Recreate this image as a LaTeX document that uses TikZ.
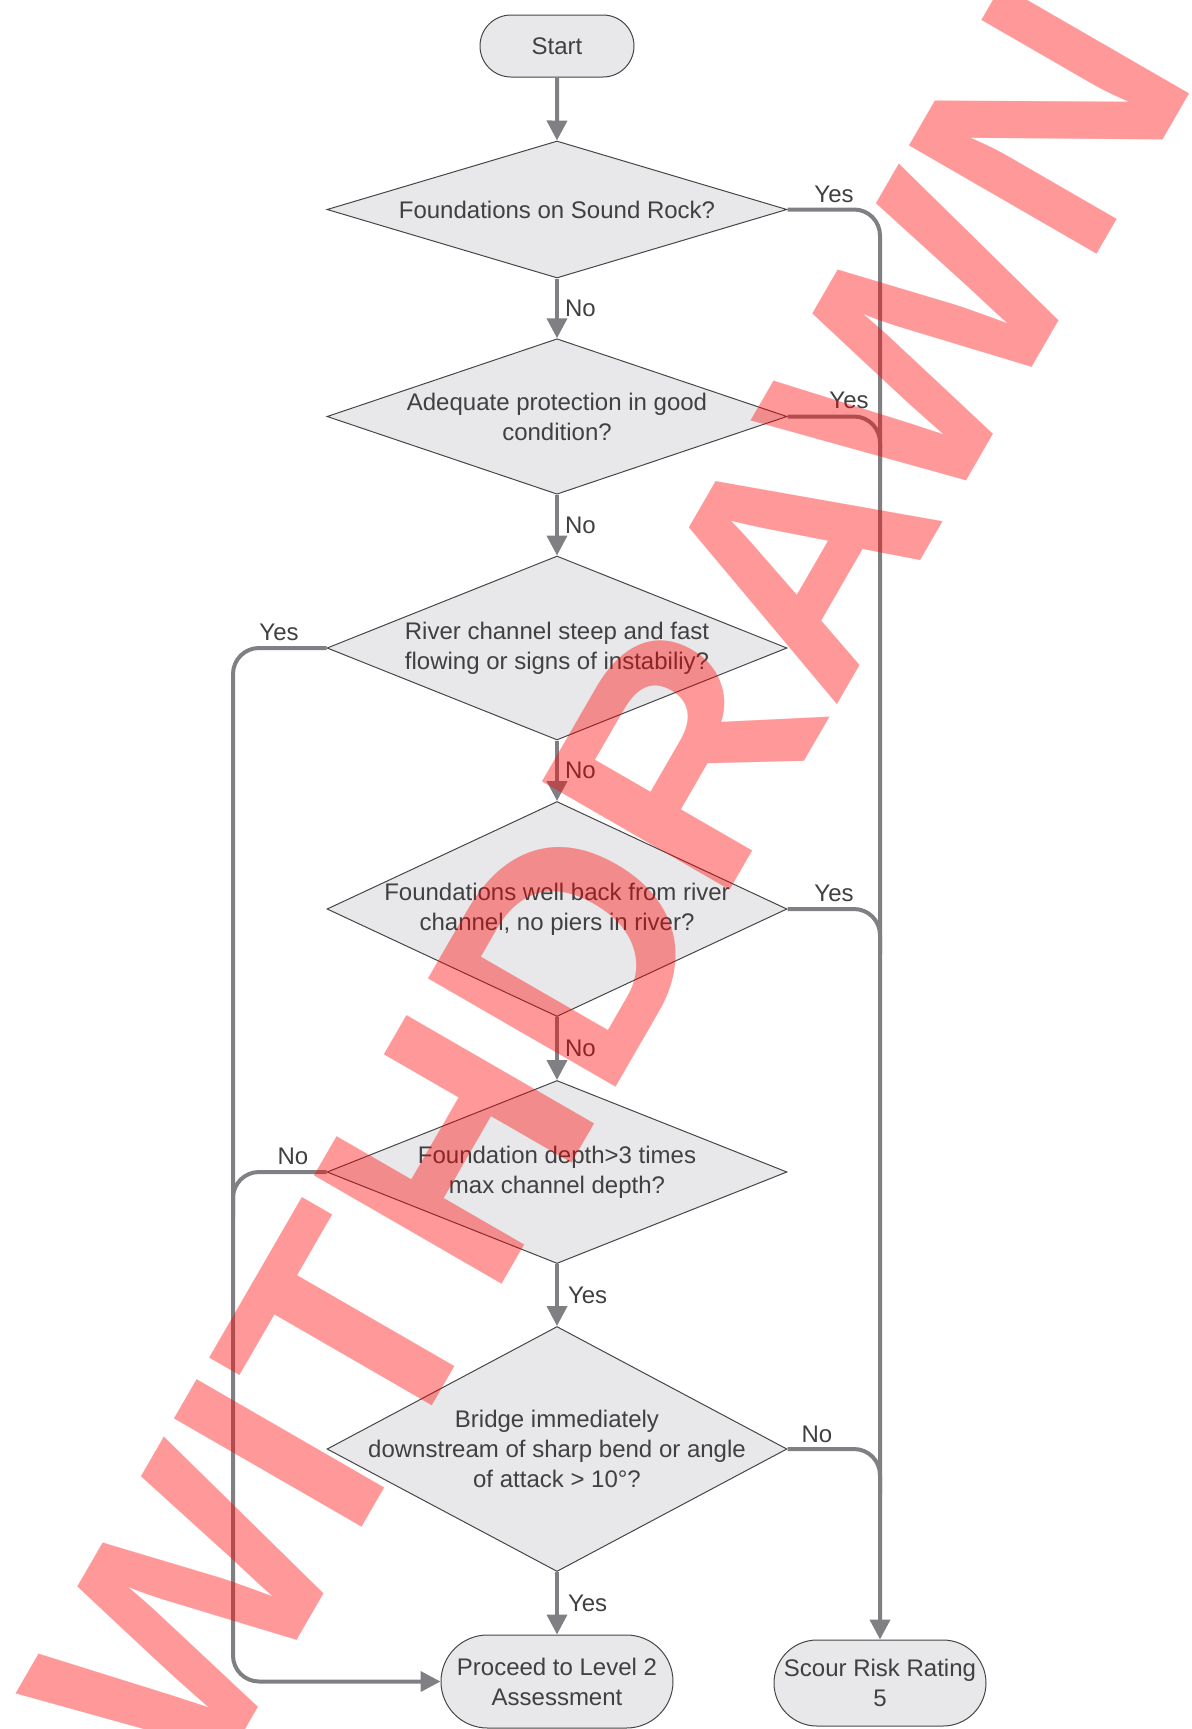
\documentclass[tikz,border=0pt]{standalone}
\usepackage{fontspec}
\setmainfont{Liberation Sans}
\usetikzlibrary{shapes.geometric,shapes.misc,arrows.meta}
\definecolor{lineg}{RGB}{128,128,132}
\definecolor{fillg}{RGB}{232,232,234}
\definecolor{edgeg}{RGB}{70,70,70}
\definecolor{txtg}{RGB}{64,64,64}
\begin{document}
\begin{tikzpicture}[x=0.5pt,y=-0.5pt,
  font=\fontsize{12}{15}\selectfont, text=txtg,
  dia/.style={diamond, draw=edgeg, line width=0.5pt, fill=fillg, minimum width=230pt, inner sep=0pt},
  term/.style={rounded rectangle, draw=edgeg, line width=0.5pt, fill=fillg, inner sep=0pt, align=center},
  conn/.style={draw=lineg, line width=2pt, rounded corners=13pt},
  arr/.style={-{Triangle[length=10pt,width=10pt]}},
  lbl/.style={inner sep=0pt, text=txtg},
  dtext/.style={label={[align=center, text=txtg]center:#1}}]
\useasboundingbox (0,0) rectangle (1192,1729);
\clip (0,0) rectangle (1192,1729);

\node[term, minimum width=77pt, minimum height=31pt] (start) at (557,46) {Start};
\node[dia, minimum height=68.5pt, dtext={Foundations on Sound Rock?}] (d1) at (557,209.5) {};
\node[dia, minimum height=77.75pt, dtext={Adequate protection in good\\condition?}] (d2) at (557,416.5) {};
\node[dia, minimum height=92pt, dtext={River channel steep and fast\\flowing or signs of instabiliy?}] (d3) at (557,648) {};
\node[dia, minimum height=107.5pt, dtext={Foundations well back from river\\channel, no piers in river?}] (d4) at (557,909) {};
\node[dia, minimum height=91.5pt, dtext={Foundation depth>3 times\\max channel depth?}] (d5) at (557,1172) {};
\node[dia, minimum height=122.5pt, dtext={Bridge immediately\\downstream of sharp bend or angle\\of attack > 10°?}] (d6) at (557,1449) {};
\node[term, minimum width=116pt, minimum height=46.5pt] (proc) at (557,1681.5) {Proceed to Level 2\\Assessment};
\node[term, minimum width=106pt, minimum height=43pt] (scour) at (880,1683) {Scour Risk Rating\\5};

\coordinate (lx) at (233,0);

% main vertical chain
\draw[conn,arr] (start) -- (d1);
\draw[conn,arr] (d1.south) -- node[lbl,right=3pt] (n1) {No} (d2.north);
\draw[conn,arr] (d2.south) -- node[lbl,right=3pt] (n2) {No} (d3.north);
\draw[conn,arr] (d3.south) -- node[lbl,right=3pt] (n3) {No} (d4.north);
\draw[conn,arr] (d4.south) -- node[lbl,right=3pt] (n4) {No} (d5.north);
\draw[conn,arr] (d5.south) -- node[lbl,right=4.5pt] (y5) {Yes} (d6.north);
\draw[conn,arr] (d6.south) -- node[lbl,right=4.5pt] (y6) {Yes} (proc.north);

% right branch
\draw[conn,arr] (d1.east) -| (scour.north);
\draw[conn] (d2.east) -- (d2.east -| scour.north) -- ++(0,45);
\draw[conn] (d4.east) -- (d4.east -| scour.north) -- ++(0,45);
\draw[conn] (d6.east) -- (d6.east -| scour.north) -- ++(0,45);

% left branch
\draw[conn,arr] (d3.west) -- (d3.west -| lx) |- (proc.west);
\draw[conn] (d5.west) -- (d5.west -| lx) -- ++(0,45);

% side labels
\node[lbl] (y1) at (834,194) {Yes};
\node[lbl] (y2) at (849,400) {Yes};
\node[lbl] (y3) at (279,632) {Yes};
\node[lbl] (y4) at (834,893) {Yes};
\node[lbl] (n5) at (293,1156) {No};
\node[lbl] (n6) at (817,1434) {No};

% watermark
\node[anchor=base west, rotate=60, inner sep=0pt, text=red, opacity=0.4,
      font=\fontsize{157.5}{160}\selectfont\bfseries] (wm) at (203,1803) {WITHDRAWN};
\end{tikzpicture}
\end{document}
